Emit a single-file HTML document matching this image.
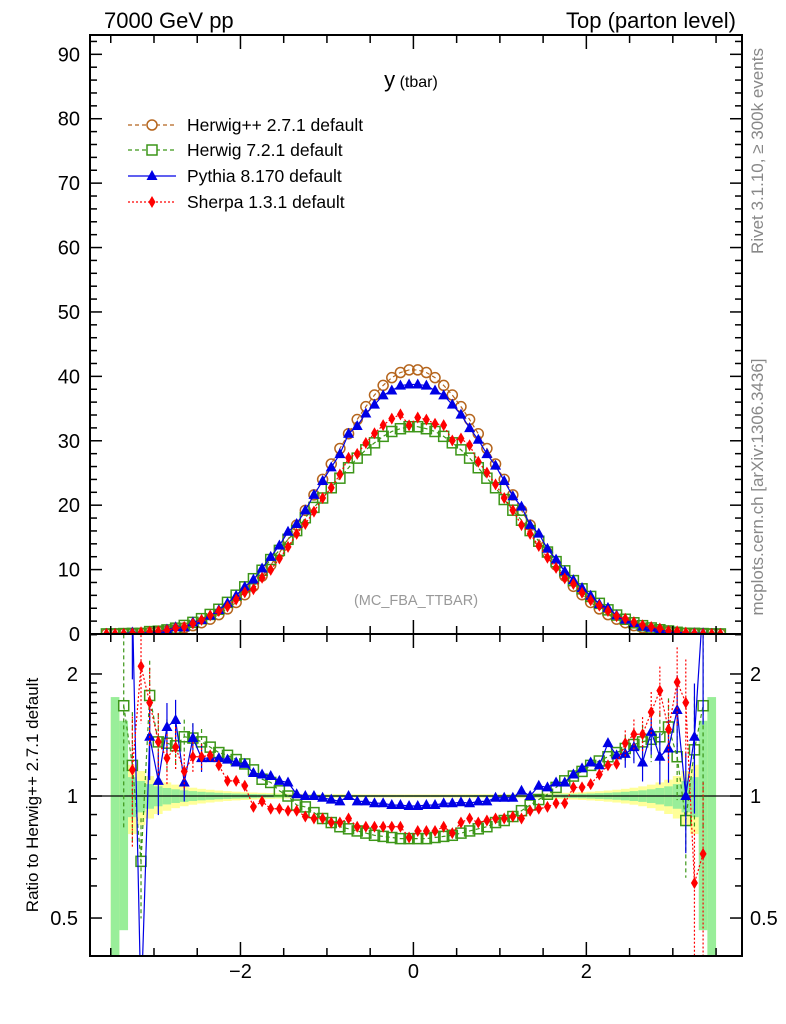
<!DOCTYPE html>
<html><head><meta charset="utf-8"><style>
body{margin:0;background:#fff;}
svg{display:block;font-family:"Liberation Sans",sans-serif;}
</style></head><body>
<svg id="c" width="786" height="1024" viewBox="0 0 786 1024">
<text x="104" y="28" font-size="22">7000 GeV pp</text>
<text x="736" y="28" font-size="22" text-anchor="end">Top (parton level)</text>
<text x="411" y="87" text-anchor="middle"><tspan font-size="22">y</tspan><tspan font-size="16"> (tbar)</tspan></text>
<text x="416" y="605" font-size="14.5" fill="#999" text-anchor="middle">(MC_FBA_TTBAR)</text>
<text transform="translate(763,151) rotate(-90)" font-size="17" fill="#888" text-anchor="middle">Rivet 3.1.10, ≥ 300k events</text>
<text transform="translate(763,487) rotate(-90)" font-size="17" fill="#888" text-anchor="middle">mcplots.cern.ch [arXiv:1306.3436]</text>
<text transform="translate(38,795) rotate(-90)" font-size="17" text-anchor="middle">Ratio to Herwig++ 2.7.1 default</text>
<g font-size="17.5">
  <g>
    <line x1="128" x2="176" y1="125" y2="125" stroke="#b5651d" stroke-width="1.2" stroke-dasharray="4,3"/>
    <circle cx="152" cy="125" r="5" fill="#fff" stroke="#b5651d" stroke-width="1.5"/>
    <text x="187" y="131">Herwig++ 2.7.1 default</text>
  </g>
  <g>
    <line x1="128" x2="176" y1="150" y2="150" stroke="#3c9618" stroke-width="1.2" stroke-dasharray="4,3"/>
    <rect x="147" y="145" width="10" height="10" fill="#fff" stroke="#3c9618" stroke-width="1.5"/>
    <text x="187" y="156">Herwig 7.2.1 default</text>
  </g>
  <g>
    <line x1="128" x2="176" y1="176" y2="176" stroke="#0000e6" stroke-width="1.2"/>
    <path d="M152,170L157.5,180L146.5,180Z" fill="#0000e6"/>
    <text x="187" y="182">Pythia 8.170 default</text>
  </g>
  <g>
    <line x1="128" x2="176" y1="202" y2="202" stroke="#ff0000" stroke-width="1.2" stroke-dasharray="2,2"/>
    <path d="M152,196L155.5,202L152,208L148.5,202Z" fill="#ff0000"/>
    <text x="187" y="208">Sherpa 1.3.1 default</text>
  </g>
</g>
</svg>
<script>
// ---- data ----
const binCenters = [-3.55,-3.45,-3.35,-3.25,-3.15,-3.05,-2.95,-2.85,-2.75,-2.65,-2.55,-2.45,-2.35,-2.25,-2.15,-2.05,-1.95,-1.85,-1.75,-1.65,-1.55,-1.45,-1.35,-1.25,-1.15,-1.05,-0.95,-0.85,-0.75,-0.65,-0.55,-0.45,-0.35,-0.25,-0.15,-0.05,
0.05,0.15,0.25,0.35,0.45,0.55,0.65,0.75,0.85,0.95,1.05,1.15,1.25,1.35,1.45,1.55,1.65,1.75,1.85,1.95,2.05,2.15,2.25,2.35,2.45,2.55,2.65,2.75,2.85,2.95,3.05,3.15,3.25,3.35,3.45,3.55];
const herwigppValues = [0.01,0.02,0.04,0.08,0.13,0.21,0.32,0.47,0.68,0.95,1.3,1.75,2.3,3.0,3.9,4.9,6.1,7.4,9.0,10.7,12.6,14.7,16.9,19.2,21.6,24.0,26.4,28.8,31.1,33.3,35.3,37.1,38.6,39.8,40.6,41.0,
41.0,40.6,39.8,38.6,37.1,35.3,33.3,31.1,28.8,26.4,24.0,21.6,19.2,16.9,14.7,12.6,10.7,9.0,7.4,6.1,4.9,3.9,3.0,2.3,1.75,1.3,0.95,0.68,0.47,0.32,0.21,0.13,0.08,0.04,0.02,0.01];
const herwig7Ratio = [null,null,1.67,1.19,0.69,1.77,1.36,1.35,1.33,1.40,1.39,1.36,1.32,1.28,1.26,1.23,1.20,1.16,1.10,1.08,1.03,1.00,0.95,0.94,0.91,0.88,0.86,0.84,0.83,0.82,0.81,0.80,0.795,0.79,0.785,0.785,
0.785,0.785,0.79,0.795,0.80,0.81,0.82,0.83,0.84,0.86,0.87,0.89,0.92,0.95,0.98,1.01,1.05,1.09,1.12,1.15,1.19,1.22,1.25,1.28,1.31,1.34,1.36,1.38,1.40,1.48,1.25,0.87,1.30,1.67,null,null];
const pythiaRatio = [null,null,null,3.0,0.3,1.40,1.09,1.48,1.54,1.08,1.39,1.24,1.24,1.24,1.23,1.21,1.20,1.14,1.13,1.12,1.09,1.08,1.01,1.00,1.00,0.99,0.98,0.97,1.0,0.97,0.97,0.96,0.96,0.95,0.95,0.945,
0.945,0.95,0.95,0.96,0.96,0.965,0.96,0.97,0.97,0.99,0.99,0.99,1.03,1.00,1.06,1.05,1.08,1.08,1.13,1.17,1.21,1.19,1.35,1.26,1.27,1.32,1.21,1.44,1.25,1.31,1.63,1.00,1.40,3.0,null,null];
const sherpaRatio = [null,null,null,1.16,2.09,1.70,1.36,1.24,1.32,1.15,1.25,1.25,1.26,1.19,1.09,1.09,1.06,0.94,0.97,0.93,0.93,0.92,0.92,0.89,0.88,0.88,0.86,0.86,0.88,0.84,0.84,0.84,0.84,0.84,0.84,0.79,
0.82,0.82,0.82,0.84,0.81,0.86,0.88,0.86,0.87,0.88,0.88,0.89,0.88,0.92,0.93,0.94,0.96,0.96,1.05,1.05,1.07,1.13,1.19,1.20,1.35,1.42,1.42,1.61,1.82,1.46,1.91,1.70,0.61,0.72,null,null];
const yTicksMain = [0,10,20,30,40,50,60,70,80,90];
const xTickLabels = [-2,0,2];
const ratioTicks = [0.5,1,2];

// ---- geometry ----
const L=90,R=742,T=35,MB=634,RB=956;
const XMIN=-3.74,XMAX=3.80,YMAX=93;
const RMIN=0.403,RMAX=2.51;
const sx=v=>L+(v-XMIN)/(XMAX-XMIN)*(R-L);
const sy=v=>MB-v/YMAX*(MB-T);
const sr=v=>RB-(Math.log(v)-Math.log(RMIN))/(Math.log(RMAX)-Math.log(RMIN))*(RB-MB);
const NS='http://www.w3.org/2000/svg';
const svg=document.getElementById('c');
function mk(tag,attrs,parent){const e=document.createElementNS(NS,tag);for(const k in attrs)e.setAttribute(k,attrs[k]);(parent||svg).appendChild(e);return e;}
function txt(s,attrs,parent){const e=mk('text',attrs,parent);e.textContent=s;return e;}

const defs=mk('defs',{});
const cp1=mk('clipPath',{id:'cm'},defs);mk('rect',{x:L,y:T,width:R-L,height:MB-T},cp1);
const cp2=mk('clipPath',{id:'cr'},defs);mk('rect',{x:L,y:MB,width:R-L,height:RB-MB},cp2);

const col={hpp:'#b5651d',h7:'#3c9618',py:'#0000e6',sh:'#ff0000'};
const herwig7Values=herwigppValues.map((v,i)=>herwig7Ratio[i]==null?v:v*herwig7Ratio[i]);
const pythiaValues=herwigppValues.map((v,i)=>pythiaRatio[i]==null?v:v*pythiaRatio[i]);
const sherpaValues=herwigppValues.map((v,i)=>sherpaRatio[i]==null?v:v*sherpaRatio[i]);

// ---- ratio bands ----
const gBand=mk('g',{'clip-path':'url(#cr)'});


binCenters.forEach((c,i)=>{
  if(Math.abs(c)>3.5)return;
  const ref=herwigppValues[i];
  const y1=0.055/Math.sqrt(ref)/Math.sqrt(ref/0.05<1?ref/0.05:1), g1=0.032/Math.sqrt(ref)/(ref<0.05?0.3:1);
  const x0=sx(c-0.05),w=sx(c+0.05)-x0;
  const hiY=sr(Math.min(1+y1,RMAX)),loY=sr(Math.max(1-y1,RMIN));
  const r1=mk('rect',{x:x0,y:hiY,width:w,height:loY-hiY,fill:'#ffff99'},gBand);
  
  
  const hiG=sr(Math.min(1+g1,RMAX)),loG=sr(Math.max(1-g1,RMIN));
  const r2=mk('rect',{x:x0,y:hiG,width:w,height:loG-hiG,fill:'#99ee99'},gBand);
  
  
});
mk('line',{x1:L,x2:R,y1:sr(1),y2:sr(1),stroke:'#000','stroke-width':1.3,});

// ---- markers ----
function marker(type,x,y,g){
  let e;
  if(type==='circle')e=mk('circle',{cx:x,cy:y,r:5,fill:'none',stroke:col.hpp,'stroke-width':1.5},g);
  else if(type==='square')e=mk('rect',{x:x-5,y:y-5,width:10,height:10,fill:'none',stroke:col.h7,'stroke-width':1.5},g);
  else if(type==='tri')e=mk('path',{d:`M${x},${y-6}L${x+5.5},${y+4}L${x-5.5},${y+4}Z`,fill:col.py},g);
  else e=mk('path',{d:`M${x},${y-6}L${x+3.5},${y}L${x},${y+6}L${x-3.5},${y}Z`,fill:col.sh},g);
  
  
}
function series(name,vals,yf,color,dash,type,clip,errs){
  const g=mk('g',{'clip-path':`url(#${clip})`});
  
  
  const pts=[];
  vals.forEach((v,i)=>{if(v!=null)pts.push([sx(binCenters[i]),yf(v),i]);});
  mk('polyline',{points:pts.map(p=>p[0]+','+p[1]).join(' '),fill:'none',stroke:color,'stroke-width':1.2,'stroke-dasharray':dash},g);
  if(errs)pts.forEach(p=>{const v=vals[p[2]];const e=errs(p[2]);if(e>0.07){
    mk('line',{x1:p[0],x2:p[0],y1:yf(v*(1+e)),y2:yf(Math.max(v*(1-e),0.01)),stroke:color,'stroke-width':1.2,'stroke-dasharray':dash},g);}});
  pts.forEach(p=>marker(type,p[0],p[1],g));
}
const errRel=i=>0.1/Math.sqrt(herwigppValues[i]);
series('herwigpp-series',herwigppValues,sy,col.hpp,'4,3','circle','cm');
series('herwig7-series',herwig7Values,sy,col.h7,'4,3','square','cm');
series('pythia-series',pythiaValues,sy,col.py,'','tri','cm');
series('sherpa-series',sherpaValues,sy,col.sh,'2,2','dia','cm');
series('herwig7-ratio',herwig7Ratio,sr,col.h7,'4,3','square','cr',errRel);
series('pythia-ratio',pythiaRatio,sr,col.py,'','tri','cr',errRel);
series('sherpa-ratio',sherpaRatio,sr,col.sh,'2,2','dia','cr',errRel);

// ---- frames & ticks ----
const ax=mk('g',{stroke:'#000','stroke-width':2,fill:'none'});


mk('rect',{x:L,y:T,width:R-L,height:MB-T},ax);
mk('rect',{x:L,y:MB,width:R-L,height:RB-MB},ax);
for(let v=-3.5;v<=3.6;v+=0.5){
  const x=sx(v),maj=Math.abs(v%2)<1e-6&&Math.abs(v)<=2,len=maj?14:8;
  [[T,1],[MB,-1],[MB,1],[RB,-1]].forEach(([y,d])=>mk('line',{x1:x,x2:x,y1:y,y2:y+d*len,'stroke-width':1.5},ax));
}
for(let v=0;v<=YMAX;v+=2){
  const y=sy(v),maj=v%10===0,len=maj?12:7;
  mk('line',{x1:L,x2:L+len,y1:y,y2:y,'stroke-width':1.5},ax);
  mk('line',{x1:R,x2:R-len,y1:y,y2:y,'stroke-width':1.5},ax);
}
[0.5,0.6,0.7,0.8,0.9,1,1.1,1.2,1.3,1.4,1.5,1.6,1.7,1.8,1.9,2,2.5].forEach(v=>{
  if(v>RMAX)return;
  const y=sr(v),maj=ratioTicks.includes(v),len=maj?12:7;
  mk('line',{x1:L,x2:L+len,y1:y,y2:y,'stroke-width':1.5},ax);
  mk('line',{x1:R,x2:R-len,y1:y,y2:y,'stroke-width':1.5},ax);
});
yTicksMain.forEach(v=>{const t=txt(String(v),{x:80,y:sy(v)+7,'text-anchor':'end','font-size':20});
  });
xTickLabels.forEach(v=>{const t=txt(v<0?'\u2212'+(-v):String(v),{x:sx(v),y:978,'text-anchor':'middle','font-size':20});
  });
ratioTicks.forEach(v=>{
  const a=txt(String(v),{x:78,y:sr(v)+7,'text-anchor':'end','font-size':20});
  
  const b=txt(String(v),{x:750,y:sr(v)+7,'font-size':20});
  
});
</script>
</body></html>
